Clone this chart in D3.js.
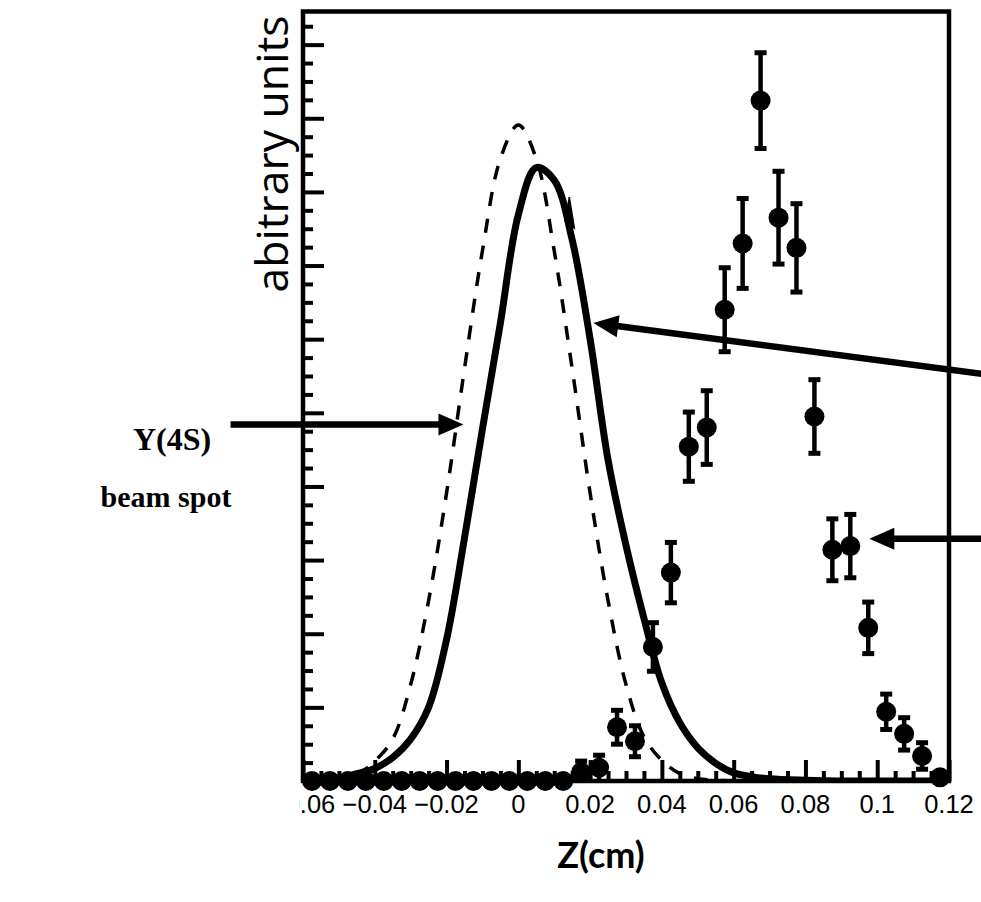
<!DOCTYPE html>
<html><head><meta charset="utf-8">
<script src="https://cdn.jsdelivr.net/npm/d3@7"></script>
<style>html,body{margin:0;padding:0;background:#fff;} svg{display:block;}</style>
</head><body><svg id="c" width="981" height="902"></svg>
<script>
// ---------- data ----------
const binZ = [-0.0575,-0.0525,-0.0475,-0.0425,-0.0375,-0.0325,-0.0275,-0.0225,-0.0175,-0.0125,-0.0075,-0.0025,
  0.0025,0.0075,0.0125,0.0175,0.0225,0.0275,0.0325,0.0375,0.0425,0.0475,0.0525,0.0575,0.0625,0.0675,
  0.0725,0.0775,0.0825,0.0875,0.0925,0.0975,0.1025,0.1075,0.1125,0.1175];
const counts = [0,0,0,0,0,0,0,0,0,0,0,0,0,0,0,
  0.12,0.18,0.73,0.54,1.82,2.83,4.54,4.80,6.40,7.30,9.24,7.65,7.24,4.95,3.14,3.19,2.08,0.94,0.64,0.34,0.05];
const errors = [0,0,0,0,0,0,0,0,0,0,0,0,0,0,0,
  0.15,0.17,0.23,0.21,0.33,0.41,0.47,0.50,0.57,0.61,0.65,0.63,0.60,0.50,0.42,0.43,0.35,0.24,0.22,0.18,0.05];

// dashed curve: Y(4S) beam spot
const beamZ   = [-0.06,-0.055,-0.05,-0.045,-0.04,-0.035,-0.03,-0.025,-0.02,-0.015,-0.01,-0.005,0,
  0.005,0.01,0.015,0.02,0.025,0.03,0.035,0.04,0.045,0.05,0.055,0.06,0.08,0.1,0.12];
const beamVal = [0.0,0.01,0.03,0.09,0.27,0.57,1.31,2.45,3.91,5.6,7.2,8.45,8.91,
  8.45,7.2,5.6,3.91,2.45,1.31,0.6,0.28,0.10,0.03,0.01,0.0,0.0,0.0,0.0];

// solid curve
const fitZ   = [-0.06,-0.055,-0.05,-0.045,-0.04,-0.035,-0.03,-0.025,-0.02,-0.015,-0.01,-0.005,0,0.005,
  0.01,0.015,0.02,0.025,0.03,0.035,0.04,0.045,0.05,0.055,0.06,0.065,0.07,0.08,0.09,0.12];
const fitVal = [0.0,0.01,0.03,0.10,0.17,0.32,0.57,1.0,1.92,3.3,4.78,6.22,7.69,8.33,
  8.16,7.35,6.0,4.36,3.2,2.21,1.33,0.79,0.45,0.24,0.11,0.06,0.03,0.01,0.0,0.0];

// small glitch on the solid curve (data coords)
const glitchZ = [0.0131,0.0142,0.0156];
const glitchV = [7.60,7.93,7.51];

const xTickValues = [-0.06,-0.04,-0.02,0,0.02,0.04,0.06,0.08,0.1,0.12];
const xTickLabels = ["\u22120.06","\u22120.04","\u22120.02","0","0.02","0.04","0.06","0.08","0.1","0.12"];
const yMajorTicks = [0,1,2,3,4,5,6,7,8,9,10];

// arrows: [tailZ, tailV, tipZ, tipV]
const arrows = [
  [-0.0802, 4.84, -0.0153, 4.84],
  [0.1292, 5.53, 0.0209, 6.22],
  [0.1292, 3.29, 0.0978, 3.29]
];

// ---------- layout ----------
const L = 303, R = 949, T = 11.5, B = 781;
const svg = d3.select("#c");
const x = d3.scaleLinear().domain([-0.06, 0.12]).range([L, R]);
const y = d3.scaleLinear().domain([0, 10.45]).range([B, T]);

svg.append("defs").append("clipPath").attr("id","plotclip")
  .append("rect").attr("x",L).attr("y",T).attr("width",R-L).attr("height",B-T);
svg.select("defs").append("clipPath").attr("id","lblclip")
  .append("rect").attr("x",299).attr("y",785).attr("width",700).attr("height",60);

// ticks
const xMinor = d3.range(-0.06, 0.12001, 0.005).filter(v => Math.abs(Math.round(v/0.02)*0.02 - v) > 1e-6);
const yMinor = d3.range(0, 10.45, 0.25).filter(v => Math.abs(Math.round(v) - v) > 1e-6);

function styleAxis(g){ g.select(".domain").remove(); g.selectAll(".tick line").attr("stroke","#000").attr("stroke-width",4); }

svg.append("g").attr("transform",`translate(0,${B})`)
  .call(d3.axisBottom(x).tickValues(xMinor).tickSize(-10).tickFormat("")).call(styleAxis);
svg.append("g").attr("transform",`translate(0,${B})`)
  .call(d3.axisBottom(x).tickValues(xTickValues).tickSize(-21).tickFormat("")).call(styleAxis);
svg.append("g").attr("transform",`translate(${L},0)`)
  .call(d3.axisLeft(y).tickValues(yMinor).tickSize(-10).tickFormat("")).call(styleAxis);
svg.append("g").attr("transform",`translate(${L},0)`)
  .call(d3.axisLeft(y).tickValues(yMajorTicks).tickSize(-21).tickFormat("")).call(styleAxis);

// tick labels
svg.append("g").attr("clip-path","url(#lblclip)")
  .selectAll("text").data(xTickValues).join("text")
  .attr("x", d => x(d)).attr("y", 813)
  .attr("text-anchor","middle")
  .attr("font-family","'Liberation Sans', Arial, sans-serif").attr("font-size",25.5)
  .text((d,i) => xTickLabels[i]);

// curves
const plot = svg.append("g").attr("clip-path","url(#plotclip)");
const line = d3.line().x(d => x(d[0])).y(d => y(d[1])).curve(d3.curveCatmullRom.alpha(0.5));
plot.append("path").datum(beamZ.map((z,i)=>[z,beamVal[i]]))
  .attr("d", line).attr("fill","none").attr("stroke","#000").attr("stroke-width",3.5)
  .attr("stroke-dasharray","14,13");
plot.append("path").datum(fitZ.map((z,i)=>[z,fitVal[i]]))
  .attr("d", line).attr("fill","none").attr("stroke","#000").attr("stroke-width",7);
plot.append("path").datum(glitchZ.map((z,i)=>[z,glitchV[i]]))
  .attr("d", d3.line().x(d=>x(d[0])).y(d=>y(d[1])).curve(d3.curveLinearClosed))
  .attr("fill","#000").attr("stroke","#000").attr("stroke-width",1.5);

// data points
const pts = binZ.map((z,i)=>({z, v:counts[i], e:errors[i]}));
const eb = svg.append("g");
pts.filter(d=>d.e>0).forEach(d=>{
  const cx = x(d.z);
  eb.append("line").attr("x1",cx).attr("x2",cx).attr("y1",y(d.v+d.e)).attr("y2",Math.min(B,y(d.v-d.e)))
    .attr("stroke","#000").attr("stroke-width",4.5);
  eb.append("line").attr("x1",cx-6).attr("x2",cx+6).attr("y1",y(d.v+d.e)).attr("y2",y(d.v+d.e))
    .attr("stroke","#000").attr("stroke-width",5);
  if (y(d.v-d.e) < B-3)
    eb.append("line").attr("x1",cx-6).attr("x2",cx+6).attr("y1",y(d.v-d.e)).attr("y2",y(d.v-d.e))
      .attr("stroke","#000").attr("stroke-width",5);
});
svg.append("g").selectAll("circle").data(pts).join("circle")
  .attr("cx", d=>x(d.z)).attr("cy", d=>y(d.v)).attr("r",10).attr("fill","#000");

// frame
svg.append("rect").attr("x",L).attr("y",T).attr("width",R-L).attr("height",B-T)
  .attr("fill","none").attr("stroke","#000").attr("stroke-width",4.5);

// arrows
const ag = svg.append("g");
arrows.forEach(a=>{
  const x0=x(a[0]), y0=y(a[1]), x1=x(a[2]), y1=y(a[3]);
  const dx=x1-x0, dy=y1-y0, len=Math.hypot(dx,dy), ux=dx/len, uy=dy/len;
  const hl=25, hw=11;
  ag.append("line").attr("x1",x0).attr("y1",y0).attr("x2",x1-ux*hl*0.8).attr("y2",y1-uy*hl*0.8)
    .attr("stroke","#000").attr("stroke-width",6.5);
  const bx=x1-ux*hl, by=y1-uy*hl;
  ag.append("polygon").attr("points",`${x1},${y1} ${bx-uy*hw},${by+ux*hw} ${bx+uy*hw},${by-ux*hw}`)
    .attr("fill","#000");
});

// titles
svg.append("text").attr("transform","translate(288,154) rotate(-90)")
  .attr("text-anchor","middle").attr("font-family","'Open Sans', sans-serif").attr("font-size",44.5)
  .text("abitrary units");
svg.append("text").attr("x",601).attr("y",868).attr("text-anchor","middle")
  .attr("font-family","Lato, 'Open Sans', sans-serif").attr("font-weight","bold").attr("font-size",36)
  .text("Z(cm)");
svg.append("text").attr("x",172).attr("y",450).attr("text-anchor","middle")
  .attr("font-family","'Liberation Serif', 'Times New Roman', serif").attr("font-weight","bold").attr("font-size",32)
  .text("Y(4S)");
svg.append("text").attr("x",166).attr("y",507).attr("text-anchor","middle")
  .attr("font-family","'Liberation Serif', 'Times New Roman', serif").attr("font-weight","bold").attr("font-size",30)
  .text("beam spot");
</script></body></html>
